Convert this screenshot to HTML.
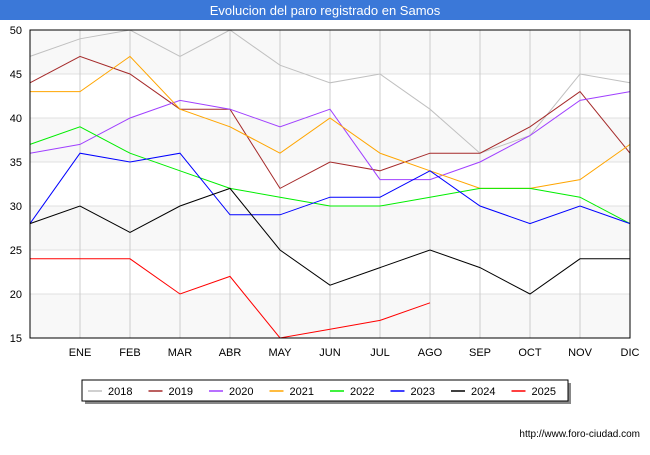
<!DOCTYPE html>
<html><head><meta charset="utf-8"><style>
body{margin:0;background:#fff;font-family:"Liberation Sans",sans-serif}
</style></head><body>
<svg width="650" height="450" xmlns="http://www.w3.org/2000/svg" font-family="Liberation Sans, sans-serif">
<rect x="0" y="0" width="650" height="20" fill="#3b78d8"/>
<text x="325" y="15" text-anchor="middle" fill="#fff" font-size="13">Evolucion del paro registrado en Samos</text>
<g id="bands"></g><g id="grid"></g><g id="ylab"></g><g id="xlab"></g><g id="lines"></g>
<rect x="30" y="30" width="600" height="308" fill="none" stroke="#000" stroke-width="1"/>
<rect x="85" y="383" width="486" height="21" fill="#888"/>
<rect x="82" y="380" width="486" height="21" fill="#fff" stroke="#000"/>
<g id="legend"></g>
<text x="640" y="437" text-anchor="end" font-size="10" fill="#000">http://www.foro-ciudad.com</text>
</svg>
<script>
const months=["","ENE","FEB","MAR","ABR","MAY","JUN","JUL","AGO","SEP","OCT","NOV","DIC"];
const yTicks=[15,20,25,30,35,40,45,50];
const years=["2018","2019","2020","2021","2022","2023","2024","2025"];
const colors=["#c0c0c0","#a52a2a","#a040ff","#ffa500","#00ee00","#0000ff","#000000","#ff0000"];
const s2018=[47,49,50,47,50,46,44,45,41,36,38,45,44];
const s2019=[44,47,45,41,41,32,35,34,36,36,39,43,36];
const s2020=[36,37,40,42,41,39,41,33,33,35,38,42,43];
const s2021=[43,43,47,41,39,36,40,36,34,32,32,33,37];
const s2022=[37,39,36,34,32,31,30,30,31,32,32,31,28];
const s2023=[28,36,35,36,29,29,31,31,34,30,28,30,28];
const s2024=[28,30,27,30,32,25,21,23,25,23,20,24,24];
const s2025=[24,24,24,20,22,15,16,17,19];
const series=[s2018,s2019,s2020,s2021,s2022,s2023,s2024,s2025];
const NS="http://www.w3.org/2000/svg";
const X=i=>30+i*50, Y=v=>30+(50-v)*308/35;
function mk(t,a,p){const e=document.createElementNS(NS,t);for(const k in a)e.setAttribute(k,a[k]);document.getElementById(p).appendChild(e);return e;}
for(let i=0;i<yTicks.length-1;i++){if(i%2==0){const r=mk("rect",{x:30,y:Y(yTicks[i+1]),width:600,height:Y(yTicks[i])-Y(yTicks[i+1]),fill:"#f8f8f8"},"bands");

}}
yTicks.forEach(v=>{const l=mk("line",{x1:30,x2:630,y1:Y(v),y2:Y(v),stroke:"#e0e0e0"},"grid");


const t=mk("text",{x:22,y:Y(v)+4,"text-anchor":"end","font-size":"11"},"ylab");t.textContent=v;

});
months.forEach((m,i)=>{if(i>0){const l=mk("line",{x1:X(i),x2:X(i),y1:30,y2:338,stroke:"#cccccc"},"grid");


const t=mk("text",{x:X(i),y:356,"text-anchor":"middle","font-size":"11"},"xlab");t.textContent=m;

}});
series.forEach((s,k)=>{const p=mk("polyline",{points:s.map((v,i)=>X(i)+","+Y(v)).join(" "),fill:"none",stroke:colors[k],"stroke-width":"1"},"lines");


const lx=88+k*60.5;
const l=mk("line",{x1:lx,x2:lx+14,y1:391,y2:391,stroke:colors[k],"stroke-width":"1.5"},"legend");


const t=mk("text",{x:lx+20,y:395,"font-size":"11"},"legend");t.textContent=years[k];

});
</script>
</body></html>
